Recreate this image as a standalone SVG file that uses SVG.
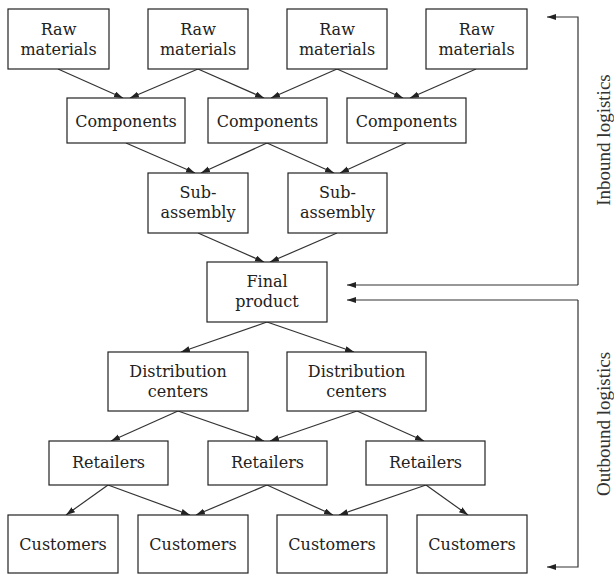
<svg xmlns="http://www.w3.org/2000/svg" width="614" height="575" viewBox="0 0 614 575">
<defs>
<marker id="ah" markerUnits="userSpaceOnUse" markerWidth="10" markerHeight="8" refX="9" refY="3" orient="auto">
<path d="M0,0 L9,3 L0,6 z" fill="#222"/>
</marker>
<style>
.box{fill:#fff;stroke:#222;stroke-width:1.2}
.t{font-family:"DejaVu Serif",serif;font-size:16px;fill:#222;text-anchor:middle}
.side{font-family:"Liberation Serif",serif;font-size:19px;fill:#333;text-anchor:middle}
.c line,.c path{stroke:#333;stroke-width:1.2;fill:none;marker-end:url(#ah)}
</style>
</defs>
<rect width="614" height="575" fill="#fff"/>
<g class="c" id="connectors">
<line x1="58" y1="69" x2="123" y2="98"/>
<line x1="198" y1="69" x2="130" y2="98"/>
<line x1="198" y1="69" x2="264" y2="98"/>
<line x1="337" y1="69" x2="271" y2="98"/>
<line x1="337" y1="69" x2="403" y2="98"/>
<line x1="476" y1="69" x2="410" y2="98"/>
<line x1="126" y1="143" x2="195" y2="173"/>
<line x1="267" y1="143" x2="201" y2="173"/>
<line x1="267" y1="143" x2="334" y2="173"/>
<line x1="406" y1="143" x2="340" y2="173"/>
<line x1="198" y1="233" x2="264" y2="262"/>
<line x1="337" y1="233" x2="270" y2="262"/>
<line x1="267" y1="322" x2="181" y2="352"/>
<line x1="267" y1="322" x2="354" y2="352"/>
<line x1="178" y1="411" x2="111" y2="441"/>
<line x1="178" y1="411" x2="264" y2="441"/>
<line x1="357" y1="411" x2="270" y2="441"/>
<line x1="357" y1="411" x2="424" y2="441"/>
<line x1="108" y1="485" x2="66" y2="515"/>
<line x1="108" y1="485" x2="190" y2="515"/>
<line x1="267" y1="485" x2="196" y2="515"/>
<line x1="267" y1="485" x2="333" y2="515"/>
<line x1="426" y1="485" x2="339" y2="515"/>
<line x1="426" y1="485" x2="468" y2="515"/>
<path d="M578,285 L578,17 L547,17"/>
<line x1="578" y1="285" x2="347" y2="285"/>
<path d="M578,300 L578,567 L547,567"/>
<line x1="578" y1="300" x2="347" y2="300"/>
</g>
<g id="raw1"><rect class="box" x="8" y="9" width="101" height="60"/><text class="t" x="58.5" y="35">Raw</text><text class="t" x="58.5" y="55">materials</text></g>
<g id="raw2"><rect class="box" x="148" y="9" width="100" height="60"/><text class="t" x="198" y="35">Raw</text><text class="t" x="198" y="55">materials</text></g>
<g id="raw3"><rect class="box" x="287" y="9" width="100" height="60"/><text class="t" x="337" y="35">Raw</text><text class="t" x="337" y="55">materials</text></g>
<g id="raw4"><rect class="box" x="426" y="9" width="101" height="60"/><text class="t" x="476.5" y="35">Raw</text><text class="t" x="476.5" y="55">materials</text></g>
<g id="comp1"><rect class="box" x="67" y="98" width="118" height="45"/><text class="t" x="126" y="127">Components</text></g>
<g id="comp2"><rect class="box" x="208" y="98" width="119" height="45"/><text class="t" x="267.5" y="127">Components</text></g>
<g id="comp3"><rect class="box" x="347" y="98" width="119" height="45"/><text class="t" x="406.5" y="127">Components</text></g>
<g id="sub1"><rect class="box" x="148" y="173" width="100" height="60"/><text class="t" x="198" y="198">Sub-</text><text class="t" x="198" y="218">assembly</text></g>
<g id="sub2"><rect class="box" x="288" y="173" width="99" height="60"/><text class="t" x="337.5" y="198">Sub-</text><text class="t" x="337.5" y="218">assembly</text></g>
<g id="final"><rect class="box" x="207" y="262" width="120" height="60"/><text class="t" x="267" y="287">Final</text><text class="t" x="267" y="307">product</text></g>
<g id="dc1"><rect class="box" x="108" y="352" width="140" height="59"/><text class="t" x="178" y="377">Distribution</text><text class="t" x="178" y="397">centers</text></g>
<g id="dc2"><rect class="box" x="287" y="352" width="139" height="59"/><text class="t" x="356.5" y="377">Distribution</text><text class="t" x="356.5" y="397">centers</text></g>
<g id="ret1"><rect class="box" x="49" y="441" width="119" height="44"/><text class="t" x="108.5" y="468">Retailers</text></g>
<g id="ret2"><rect class="box" x="208" y="441" width="119" height="44"/><text class="t" x="267.5" y="468">Retailers</text></g>
<g id="ret3"><rect class="box" x="366" y="441" width="119" height="44"/><text class="t" x="425.5" y="468">Retailers</text></g>
<g id="cust1"><rect class="box" x="8" y="515" width="110" height="58"/><text class="t" x="63" y="550">Customers</text></g>
<g id="cust2"><rect class="box" x="138" y="515" width="110" height="58"/><text class="t" x="193" y="550">Customers</text></g>
<g id="cust3"><rect class="box" x="277" y="515" width="110" height="58"/><text class="t" x="332" y="550">Customers</text></g>
<g id="cust4"><rect class="box" x="417" y="515" width="110" height="58"/><text class="t" x="472" y="550">Customers</text></g>
<g id="labels">
<text class="side" transform="translate(610,140) rotate(-90)">Inbound logistics</text>
<text class="side" transform="translate(610,424) rotate(-90)">Outbound logistics</text>
</g>
</svg>
